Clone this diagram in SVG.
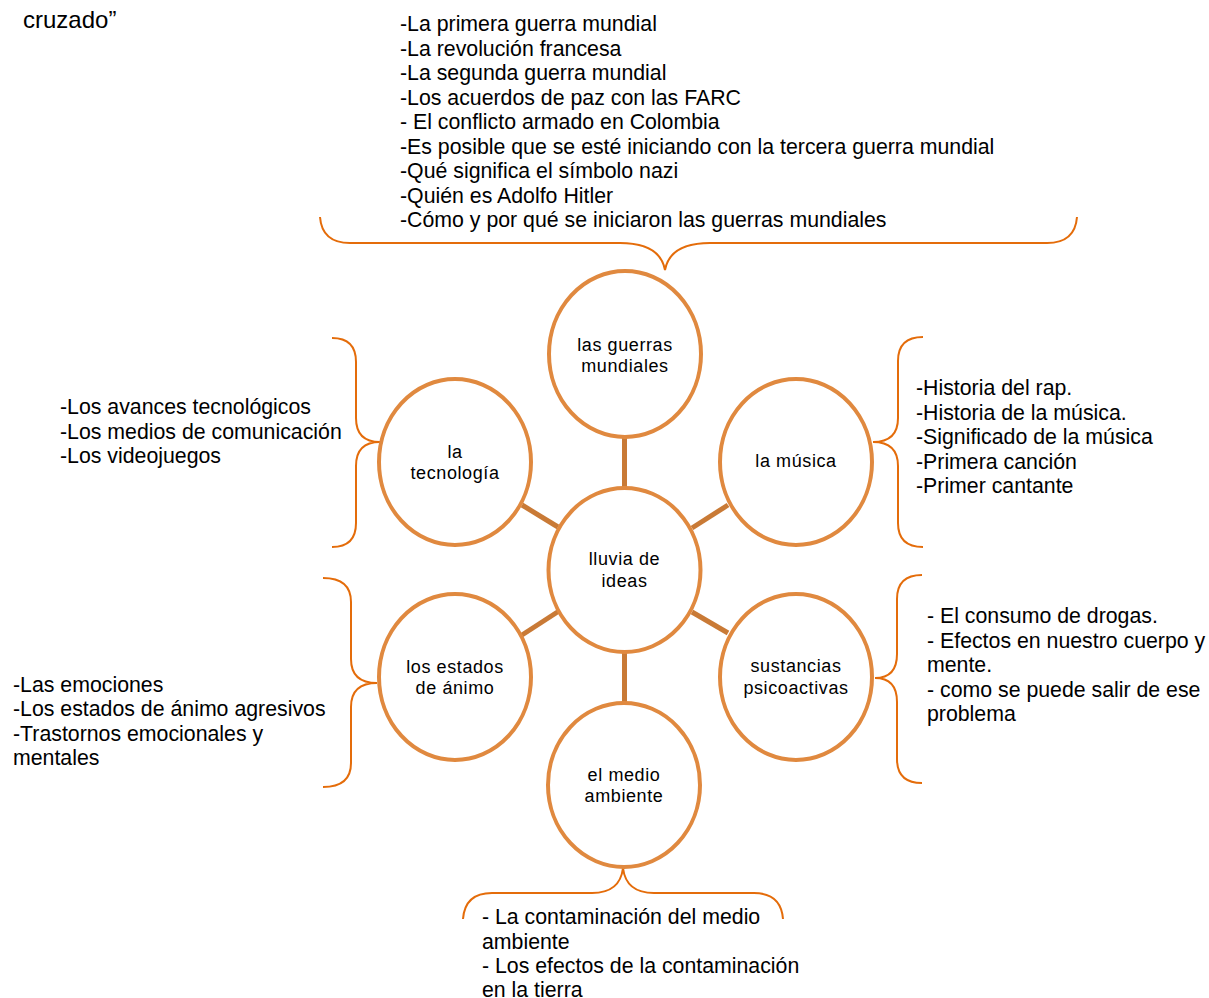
<svg xmlns="http://www.w3.org/2000/svg" width="1209" height="998" viewBox="0 0 1209 998">
<style>
.node ellipse{fill:#fff;stroke:#E0893F;stroke-width:4}
.node text{font-family:"Liberation Sans",Arial,sans-serif;font-size:18px;letter-spacing:0.6px;fill:#000;text-anchor:middle}
.conn line{stroke:#C97A36;stroke-width:5}
.brace{fill:none;stroke:#E46C0A;stroke-width:2}
.list{font-family:"Liberation Sans",Arial,sans-serif;font-size:21.3px;fill:#000}
</style>
<rect width="1209" height="998" fill="#fff"/>
<text class="list" x="23" y="28" style="font-size:24px">cruzado”</text>

<g id="connectors" class="conn">
<line x1="624.5" y1="436" x2="624.5" y2="489"/>
<line x1="624.5" y1="651" x2="624.5" y2="704"/>
<line x1="522" y1="505" x2="558" y2="527"/>
<line x1="692" y1="528" x2="728" y2="505"/>
<line x1="692" y1="612" x2="728" y2="633"/>
<line x1="522" y1="635" x2="559" y2="611"/>
</g>

<g id="braces">
<path class="brace" d="M320,217 Q322,243 350,243 L620,243 Q660,243 665,270 Q670,243 710,243 L1047,243 Q1075,243 1077,217"/>
<path class="brace" d="M332,338 Q356,338 356,362 L356,418 Q356,442 380,442 Q356,442 356,466 L356,523 Q356,547 332,547"/>
<path class="brace" d="M323,578 Q351,578 351,602 L351,659 Q351,683 377,683 Q351,683 351,707 L351,763 Q351,787 323,787"/>
<path class="brace" d="M923,337 Q898,337 898,361 L898,418 Q898,442 873,442 Q898,442 898,466 L898,523 Q898,547 923,547"/>
<path class="brace" d="M922,575 Q897,575 897,599 L897,654 Q897,678 875,678 Q897,678 897,702 L897,759 Q897,783 922,783"/>
<path class="brace" d="M463,919 Q465,893 492,893 L592,893 Q620,893 623,868 Q626,893 654,893 L754,893 Q781,893 783,919"/>
</g>

<g id="node-guerras" class="node">
<ellipse cx="625" cy="354" rx="76" ry="83"/>
<text x="625" y="351">las guerras</text>
<text x="625" y="372">mundiales</text>
</g>
<g id="node-tecnologia" class="node">
<ellipse cx="455" cy="462" rx="76" ry="83"/>
<text x="455" y="458">la</text>
<text x="455" y="479">tecnología</text>
</g>
<g id="node-musica" class="node">
<ellipse cx="796" cy="462" rx="76" ry="83"/>
<text x="796" y="467">la música</text>
</g>
<g id="node-lluvia" class="node">
<ellipse cx="624.5" cy="570" rx="76" ry="82"/>
<text x="624.5" y="565">lluvia de</text>
<text x="624.5" y="587">ideas</text>
</g>
<g id="node-estados" class="node">
<ellipse cx="455" cy="677" rx="76" ry="83"/>
<text x="455" y="673">los estados</text>
<text x="455" y="694">de ánimo</text>
</g>
<g id="node-sustancias" class="node">
<ellipse cx="796" cy="677" rx="76" ry="83"/>
<text x="796" y="672">sustancias</text>
<text x="796" y="694">psicoactivas</text>
</g>
<g id="node-medio" class="node">
<ellipse cx="624" cy="785" rx="76" ry="82"/>
<text x="624" y="781">el medio</text>
<text x="624" y="802">ambiente</text>
</g>

<g id="list-guerras">
<text class="list" x="400" y="31">-La primera guerra mundial</text>
<text class="list" x="400" y="55.5">-La revolución francesa</text>
<text class="list" x="400" y="80">-La segunda guerra mundial</text>
<text class="list" x="400" y="104.5">-Los acuerdos de paz con las FARC</text>
<text class="list" x="400" y="129">- El conflicto armado en Colombia</text>
<text class="list" x="400" y="153.5">-Es posible que se esté iniciando con la tercera guerra mundial</text>
<text class="list" x="400" y="178">-Qué significa el símbolo nazi</text>
<text class="list" x="400" y="202.5">-Quién es Adolfo Hitler</text>
<text class="list" x="400" y="227">-Cómo y por qué se iniciaron las guerras mundiales</text>
</g>
<g id="list-tecnologia">
<text class="list" x="60" y="414">-Los avances tecnológicos</text>
<text class="list" x="60" y="439">-Los medios de comunicación</text>
<text class="list" x="60" y="463">-Los videojuegos</text>
</g>
<g id="list-musica">
<text class="list" x="916" y="395">-Historia del rap.</text>
<text class="list" x="916" y="419.5">-Historia de la música.</text>
<text class="list" x="916" y="444">-Significado de la música</text>
<text class="list" x="916" y="468.5">-Primera canción</text>
<text class="list" x="916" y="493">-Primer cantante</text>
</g>
<g id="list-estados">
<text class="list" x="13" y="692">-Las emociones</text>
<text class="list" x="13" y="716">-Los estados de ánimo agresivos</text>
<text class="list" x="13" y="741">-Trastornos emocionales y</text>
<text class="list" x="13" y="765">mentales</text>
</g>
<g id="list-sustancias">
<text class="list" x="927" y="623">- El consumo de drogas.</text>
<text class="list" x="927" y="647.5">- Efectos en nuestro cuerpo y</text>
<text class="list" x="927" y="672">mente.</text>
<text class="list" x="927" y="696.5">- como se puede salir de ese</text>
<text class="list" x="927" y="721">problema</text>
</g>
<g id="list-medio">
<text class="list" x="482" y="924">- La contaminación del medio</text>
<text class="list" x="482" y="948.5">ambiente</text>
<text class="list" x="482" y="973">- Los efectos de la contaminación</text>
<text class="list" x="482" y="997">en la tierra</text>
</g>
</svg>
